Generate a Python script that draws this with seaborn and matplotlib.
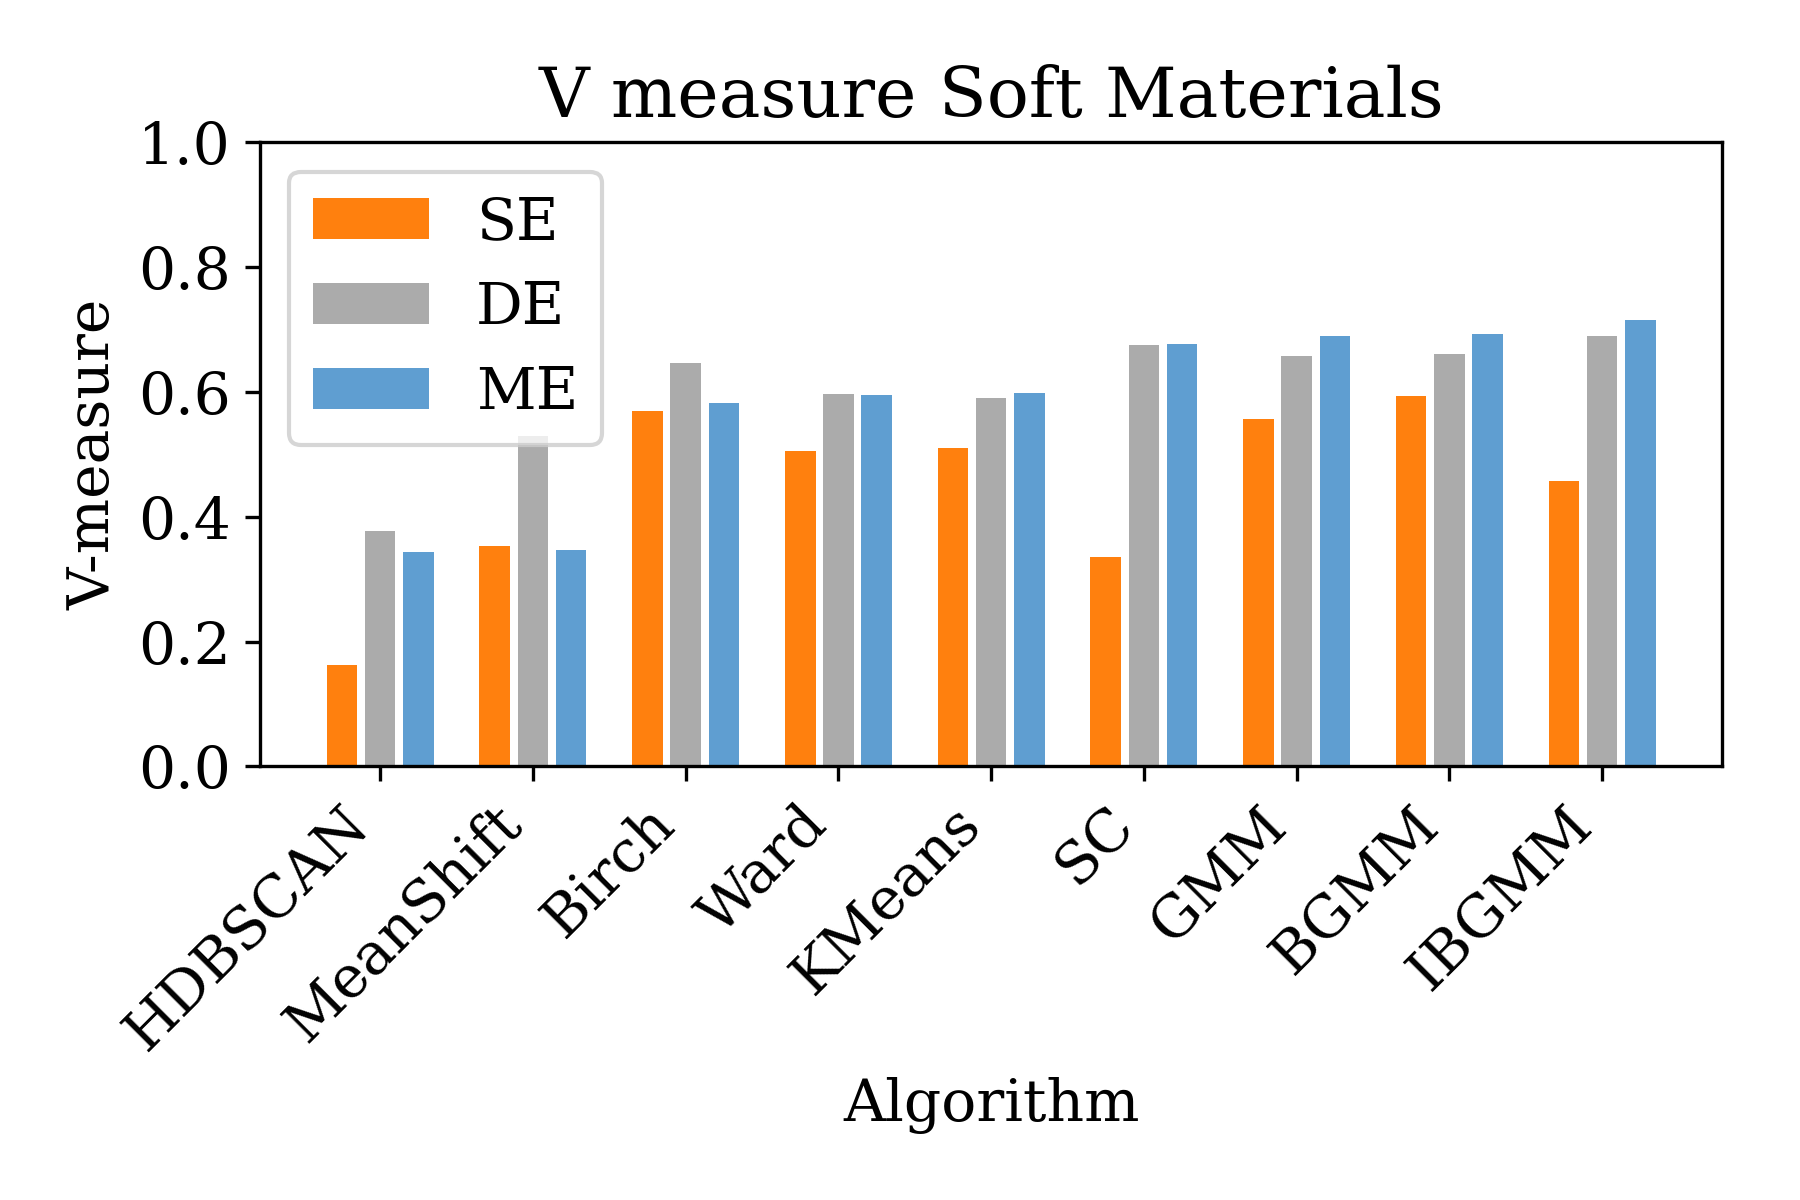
import matplotlib
matplotlib.use("Agg")
import matplotlib.pyplot as plt
import seaborn as sns
import pandas as pd

algorithms = ["HDBSCAN", "MeanShift", "Birch", "Ward", "KMeans", "SC", "GMM", "BGMM", "IBGMM"]
se_values = [0.162, 0.353, 0.569, 0.506, 0.510, 0.336, 0.557, 0.593, 0.457]
de_values = [0.377, 0.530, 0.647, 0.597, 0.591, 0.675, 0.658, 0.661, 0.690]
me_values = [0.343, 0.347, 0.582, 0.595, 0.599, 0.677, 0.690, 0.693, 0.716]
series_names = ["SE", "DE", "ME"]
colors = ["#FF800E", "#ABABAB", "#5F9ED1"]

rows = []
for name, vals in zip(series_names, [se_values, de_values, me_values]):
    for a, v in zip(algorithms, vals):
        rows.append({"Algorithm": a, "Embedding": name, "V-measure": v})
df = pd.DataFrame(rows)

sns.set_style("ticks")
plt.rcParams["font.family"] = ["DejaVu Serif"]
plt.rcParams["font.size"] = 14
plt.rcParams["text.color"] = "black"
plt.rcParams["axes.labelcolor"] = "black"
plt.rcParams["xtick.color"] = "black"
plt.rcParams["ytick.color"] = "black"

fig = plt.figure(figsize=(6, 4), dpi=300)
ax = fig.add_axes([0.1446, 0.3613, 0.8121, 0.52])
sns.barplot(data=df, x="Algorithm", y="V-measure", hue="Embedding",
            hue_order=series_names, palette=colors, order=algorithms,
            width=0.75, gap=0.2, saturation=1, ax=ax, errorbar=None,
            linewidth=0)

ax.set_xlim(-0.785, 8.785)
ax.set_ylim(0, 1.0)
ax.set_yticks([0, 0.2, 0.4, 0.6, 0.8, 1.0])
ax.set_yticklabels(["0.0", "0.2", "0.4", "0.6", "0.8", "1.0"], fontsize=14, color="black")
ax.set_xticks(range(len(algorithms)))
ax.set_xticklabels(algorithms, rotation=45, ha="right", fontsize=14, color="black")
ax.set_xlabel("Algorithm", fontsize=14, color="black")
ax.set_ylabel("V-measure", fontsize=14, color="black")
ax.set_title("V measure Soft Materials", fontsize=16.8, color="black")
for s in ax.spines.values():
    s.set_visible(True)
    s.set_color("black")
    s.set_linewidth(0.8)
ax.tick_params(axis="both", colors="black", length=3.5, width=0.8)
leg = ax.legend(loc="upper left", fontsize=14, title=None, frameon=True,
                framealpha=0.8, fancybox=True, edgecolor="0.8")
for t in leg.get_texts():
    t.set_color("black")

fig.savefig("out.png", dpi=300)
